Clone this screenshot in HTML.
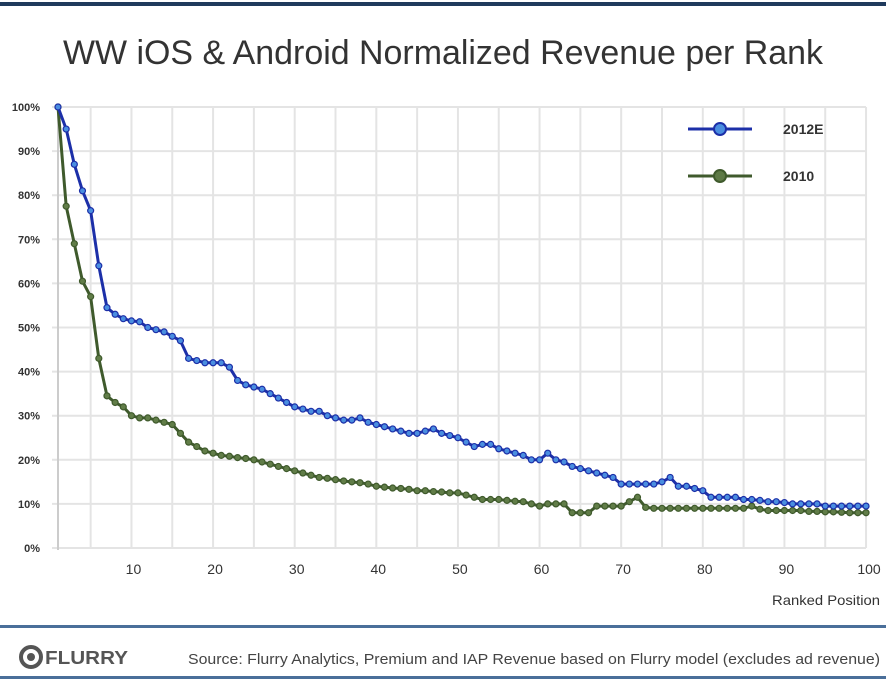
<!DOCTYPE html>
<html><head><meta charset="utf-8"><style>
html,body{margin:0;padding:0;background:#fff;}
svg{display:block;font-family:"Liberation Sans",sans-serif;}
</style></head><body>
<svg id="s" width="886" height="682" viewBox="0 0 886 682" xmlns="http://www.w3.org/2000/svg">
<rect x="0" y="0" width="886" height="682" fill="#fff"/>
<rect x="0" y="2" width="886" height="4" fill="#1f3a5c"/>
<text x="443" y="64" font-size="34" fill="#333" text-anchor="middle" textLength="760" lengthAdjust="spacingAndGlyphs">WW iOS &amp; Android Normalized Revenue per Rank</text>
<g id="grid"></g>
<g font-size="11" fill="#333" font-weight="bold" text-anchor="end" id="ylab"></g>
<g font-size="14" fill="#333" text-anchor="middle" id="xlab"></g>
<text x="880" y="605" font-size="14" fill="#333" text-anchor="end" textLength="108" lengthAdjust="spacingAndGlyphs">Ranked Position</text>
<g id="series"></g>
<line x1="688" y1="129" x2="752" y2="129" stroke="#1c2fa8" stroke-width="3"/>
<circle cx="720" cy="129" r="6" fill="#4a8ee0" stroke="#1c2fa8" stroke-width="2"/>
<text x="783" y="134" font-size="14" font-weight="bold" fill="#333">2012E</text>
<line x1="688" y1="176" x2="752" y2="176" stroke="#3f5a2c" stroke-width="3"/>
<circle cx="720" cy="176" r="6" fill="#5e7a46" stroke="#3f5a2c" stroke-width="2"/>
<text x="783" y="181" font-size="14" font-weight="bold" fill="#333">2010</text>
<rect x="0" y="625" width="886" height="3" fill="#4a6f9a"/>
<rect x="0" y="676" width="886" height="3" fill="#4a6f9a"/>
<circle cx="31" cy="657" r="10" fill="none" stroke="#555" stroke-width="4"/>
<circle cx="31" cy="657" r="4" fill="#555"/>
<text x="45" y="664" font-size="18" font-weight="bold" fill="#555" textLength="83" lengthAdjust="spacingAndGlyphs">FLURRY</text>
<text x="188" y="664" font-size="15" fill="#444" textLength="692" lengthAdjust="spacingAndGlyphs">Source: Flurry Analytics, Premium and IAP Revenue based on Flurry model (excludes ad revenue)</text>
</svg>
<script>
var NS="http://www.w3.org/2000/svg";
function el(p,t,a){var e=document.createElementNS(NS,t);for(var k in a)e.setAttribute(k,a[k]);p.appendChild(e);return e;}
function X(r){return 58+(r-1)*8.162;}
function Y(v){return 548-v*4.41;}
var g=document.getElementById("grid");
for(var i=0;i<=10;i++){el(g,"line",{x1:52,x2:866,y1:Y(i*10),y2:Y(i*10),stroke:"#e4e4e4","stroke-width":2});}
for(var r=5;r<=100;r+=5){el(g,"line",{x1:X(r)+ (r==100?0:0),x2:X(r),y1:Y(100),y2:548,stroke:"#e4e4e4","stroke-width":2});}
el(g,"line",{x1:58,x2:58,y1:Y(100),y2:550,stroke:"#ccc","stroke-width":2});
var yl=document.getElementById("ylab");
for(var i=0;i<=10;i++){var t=el(yl,"text",{x:40,y:Y(i*10)+4});t.textContent=i*10+"%";}
var xl=document.getElementById("xlab");
for(var r=10;r<=100;r+=10){var t=el(xl,"text",{x:X(r)+(r==100?3:2),y:574});t.textContent=r;}
var blue=[100,95,87,81,76.5,64,54.5,53,52,51.5,51.3,50,49.5,49,48,47,43,42.5,42,42,42,41,38,37,36.5,36,35,34,33,32,31.5,31,31,30,29.5,29,29,29.5,28.5,28,27.5,27,26.5,26,26,26.5,27,26,25.5,25,24,23,23.5,23.5,22.5,22,21.5,21,20,20,21.5,20,19.5,18.5,18,17.5,17,16.5,16,14.5,14.5,14.5,14.5,14.5,15,16,14,14,13.5,13,11.5,11.5,11.5,11.5,11,11,10.8,10.5,10.5,10.3,10,10,10,10,9.5,9.5,9.5,9.5,9.5,9.5];
var green=[100,77.5,69,60.5,57,43,34.5,33,32,30,29.5,29.5,29,28.5,28,26,24,23,22,21.5,21,20.8,20.5,20.3,20,19.5,19,18.5,18,17.5,17,16.5,16,15.8,15.5,15.2,15,14.8,14.5,14,13.8,13.6,13.5,13.3,13,13,12.8,12.7,12.5,12.5,12,11.5,11,11,11,10.8,10.6,10.5,10,9.5,10,10,10,8,8,8,9.5,9.5,9.5,9.5,10.5,11.5,9.2,9,9,9,9,9,9,9,9,9,9,9,9,9.5,8.8,8.5,8.5,8.5,8.5,8.5,8.3,8.3,8.2,8.2,8.1,8,8,8];
var s=document.getElementById("series");
function draw(d,line,fill){
 var p=d.map(function(v,i){return X(i+1).toFixed(1)+","+Y(v).toFixed(1);}).join(" ");
 el(s,"polyline",{points:p,fill:"none",stroke:line,"stroke-width":3,"stroke-linejoin":"round"});
 d.forEach(function(v,i){el(s,"circle",{cx:X(i+1),cy:Y(v),r:3,fill:fill,stroke:line,"stroke-width":1.2});});
}
draw(green,"#3f5a2c","#617d48");
draw(blue,"#1c2fa8","#4a8ee0");
</script>
</body></html>
